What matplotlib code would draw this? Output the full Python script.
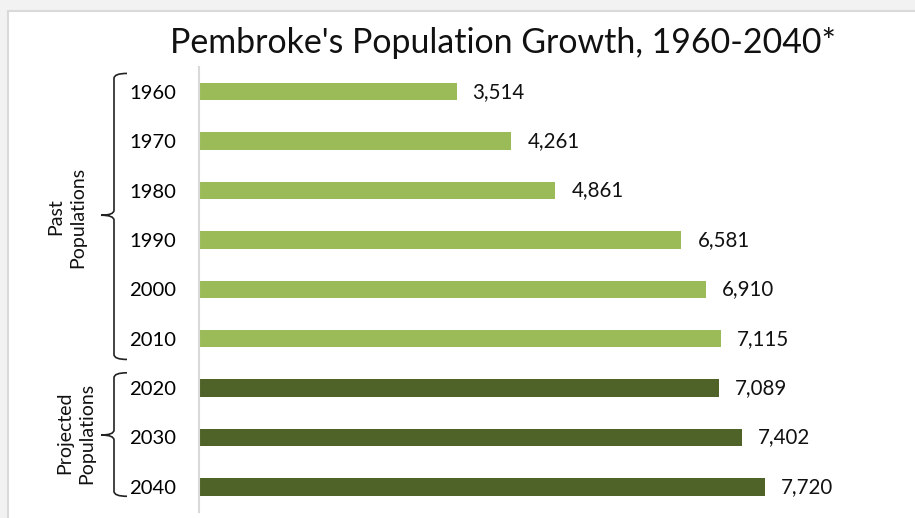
import matplotlib
matplotlib.use("Agg")
import matplotlib.pyplot as plt
from matplotlib.path import Path
from matplotlib.patches import PathPatch, Rectangle
from matplotlib import transforms as mtransforms

years = ["1960", "1970", "1980", "1990", "2000", "2010", "2020", "2030", "2040"]
populations = [3514, 4261, 4861, 6581, 6910, 7115, 7089, 7402, 7720]
is_projected = [False, False, False, False, False, False, True, True, True]
title = "Pembroke's Population Growth, 1960-2040*"
group_labels = ["Past\nPopulations", "Projected\nPopulations"]

PAST_COLOR = "#9BBB59"
PROJ_COLOR = "#4F6228"
FONT = ["Lato", "DejaVu Sans"]

W, H = 915, 518
STEP = 49.4
TOP = 91.7 - STEP / 2
fig = plt.figure(figsize=(W / 100, H / 100), dpi=100)
fig.patch.set_facecolor("#f2f2f2")

# white chart area with light border
bg = Rectangle((8 / W, -0.1), 1.2, 1.1 - 11 / H, transform=fig.transFigure,
               facecolor="white", edgecolor="#d9d9d9", linewidth=1.5, zorder=-10)
fig.patches.append(bg)

bottom_px = TOP + 9 * STEP
ax = fig.add_axes([199 / W, 1 - bottom_px / H, 1 - 199 / W, (bottom_px - TOP) / H])
ax.set_facecolor("none")
ax.set_zorder(1)

ypos = list(range(len(years)))
colors = [PROJ_COLOR if p else PAST_COLOR for p in is_projected]
ax.barh(ypos, populations, height=0.355, color=colors, zorder=2)
ax.set_ylim(8.5, -0.5)
ax.set_xlim(0, (W - 199) / 0.0733)

for y, v in zip(ypos, populations):
    ax.annotate(f"{v:,}", (v, y), xytext=(16, 0), textcoords="offset pixels",
                ha="left", va="center", fontsize=14.8, family=FONT, color="#111111")

ax.set_yticks(ypos)
ax.set_yticklabels(years, family=FONT, fontsize=14.6)
ax.tick_params(axis="y", length=0, pad=16.5)
ax.set_xticks([])
for s in ["top", "right", "bottom"]:
    ax.spines[s].set_visible(False)
ax.spines["left"].set_color("#d9d9d9")
ax.spines["left"].set_linewidth(1.5)

fig.text(503 / W, 1 - 43 / H, title, ha="center", va="center", fontsize=24.4,
         family=FONT, color="#111111")

# curly braces
trans = mtransforms.blended_transform_factory(fig.transFigure, ax.transData)
def brace(y0, y1, ymid):
    xv, xe, xt = 114 / W, 127 / W, 101 / W
    d = 0.1
    verts = [(xe, y0), (xv, y0), (xv, y0 + d),
             (xv, ymid - d), (xv, ymid), (xt, ymid),
             (xv, ymid), (xv, ymid + d),
             (xv, y1 - d), (xv, y1), (xe, y1)]
    codes = [Path.MOVETO, Path.CURVE3, Path.CURVE3,
             Path.LINETO, Path.CURVE3, Path.CURVE3,
             Path.CURVE3, Path.CURVE3,
             Path.LINETO, Path.CURVE3, Path.CURVE3]
    fig.patches.append(PathPatch(Path(verts, codes), transform=trans, fill=False,
                                 edgecolor="#222222", linewidth=1.2, clip_on=False, zorder=2))

brace(-0.37, 5.42, 2.5)
brace(5.69, 8.19, 6.95)

fig.text(67 / W, 1 - 217 / H, group_labels[0], rotation=90, ha="center", va="center",
         fontsize=14, family=FONT, color="#111111", linespacing=1.35, multialignment="center")
fig.text(75.5 / W, 1 - 433 / H, group_labels[1], rotation=90, ha="center", va="center",
         fontsize=14, family=FONT, color="#111111", linespacing=1.35, multialignment="center")

fig.savefig("out.png", dpi=100)
